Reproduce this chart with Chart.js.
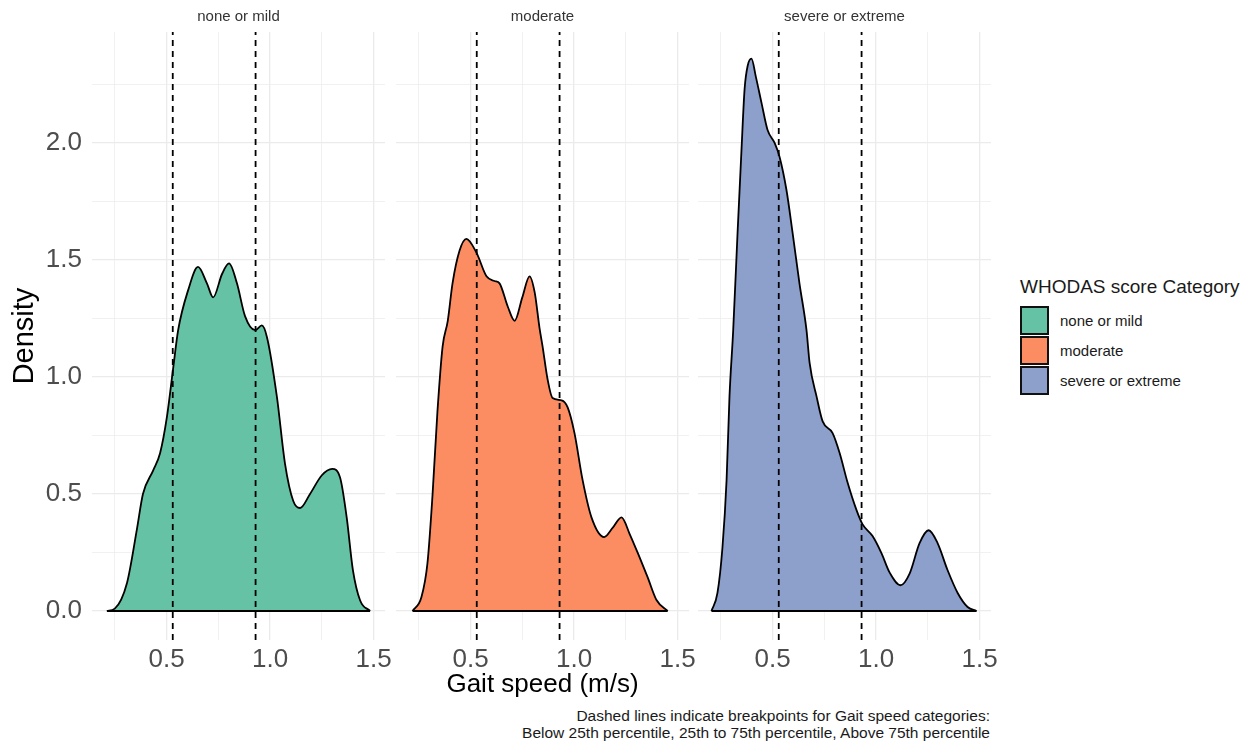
<!DOCTYPE html>
<html>
<head>
<meta charset="utf-8">
<script src="https://cdn.jsdelivr.net/npm/chart.js@4.4.1/dist/chart.umd.min.js"></script>
<style>
  body { margin: 0; background: #fff; width: 1259px; height: 742px; position: relative; overflow: hidden;
         font-family: 'Liberation Sans', Arial, sans-serif; }
  canvas { position: absolute; top: 0; }
  #legend { position: absolute; left: 1020px; top: 276px; color: #1a1a1a; }
  #legend .title { font-size: 19px; line-height: 22px; height: 29px; }
  #legend .row { height: 30px; display: flex; align-items: center; }
  #legend .key { width: 29px; height: 29px; box-sizing: border-box; border: 2px solid #111; }
  #legend .lab { font-size: 15px; margin-left: 11px; }
  #caption { position: absolute; right: 269px; top: 708px; font-size: 15.5px; line-height: 16.5px;
             text-align: right; color: #1a1a1a; }
</style>
</head>
<body>
<canvas id="c0"></canvas>
<canvas id="c1"></canvas>
<canvas id="c2"></canvas>
<div id="legend"></div>
<div id="caption">Dashed lines indicate breakpoints for Gait speed categories:<br>Below 25th percentile, 25th to 75th percentile, Above 75th percentile</div>
<script>
// WHODAS score categories and their Set2 colours
const categories = ['none or mild', 'moderate', 'severe or extreme']
const fillColors = ['#66C2A5', '#FC8D62', '#8DA0CB']

// gait speed breakpoints (25th and 75th percentile)
const breakpoints = [0.53, 0.93]

// density curves
const mildX = [0.212, 0.25, 0.309, 0.357, 0.386, 0.435, 0.469, 0.502, 0.531, 0.556, 0.604, 0.652, 0.695, 0.725, 0.768, 0.802, 0.84, 0.879, 0.928, 0.96, 0.985, 1.033, 1.072, 1.112, 1.145, 1.193, 1.25, 1.30, 1.338, 1.37, 1.40, 1.435, 1.483]
const mildY = [0, 0.01, 0.12, 0.35, 0.50, 0.60, 0.675, 0.83, 1.03, 1.20, 1.37, 1.47, 1.40, 1.34, 1.44, 1.485, 1.40, 1.26, 1.20, 1.22, 1.17, 0.915, 0.63, 0.47, 0.44, 0.50, 0.58, 0.607, 0.57, 0.40, 0.175, 0.045, 0]

const moderateX = [0.22, 0.263, 0.292, 0.316, 0.34, 0.365, 0.39, 0.413, 0.447, 0.48, 0.529, 0.577, 0.616, 0.64, 0.68, 0.713, 0.75, 0.785, 0.81, 0.833, 0.848, 0.872, 0.896, 0.94, 0.969, 1.002, 1.041, 1.084, 1.145, 1.186, 1.229, 1.268, 1.316, 1.355, 1.398, 1.452]
const moderateY = [0, 0.06, 0.205, 0.49, 0.85, 1.13, 1.24, 1.40, 1.54, 1.59, 1.53, 1.43, 1.41, 1.40, 1.30, 1.24, 1.34, 1.43, 1.36, 1.21, 1.13, 0.99, 0.91, 0.90, 0.87, 0.76, 0.56, 0.40, 0.316, 0.355, 0.40, 0.33, 0.23, 0.145, 0.047, 0]

const severeX = [0.205, 0.234, 0.258, 0.278, 0.292, 0.31, 0.331, 0.35, 0.365, 0.38, 0.398, 0.42, 0.447, 0.476, 0.51, 0.534, 0.567, 0.597, 0.63, 0.664, 0.679, 0.713, 0.742, 0.79, 0.824, 0.862, 0.906, 0.935, 0.983, 1.027, 1.065, 1.118, 1.162, 1.21, 1.254, 1.297, 1.345, 1.394, 1.442, 1.485]
const severeY = [0, 0.077, 0.27, 0.56, 0.915, 1.2, 1.615, 1.97, 2.23, 2.33, 2.36, 2.28, 2.17, 2.055, 2.0, 1.94, 1.80, 1.615, 1.40, 1.20, 1.06, 0.915, 0.81, 0.76, 0.675, 0.55, 0.43, 0.37, 0.32, 0.245, 0.165, 0.11, 0.16, 0.29, 0.345, 0.29, 0.175, 0.077, 0.017, 0]

const seriesX = [mildX, moderateX, severeX]
const seriesY = [mildY, moderateY, severeY]

const xRange = [0.14, 1.555]
const yRange = [-0.124, 2.474]
const xTickLabels = ['0.5', '1.0', '1.5']
const yTickLabels = ['0.0', '0.5', '1.0', '1.5', '2.0']

// panel plot areas (left, right) on the page
const panels = [[92, 385], [396, 689], [698, 991]]
const fontFamily = "'Liberation Sans', Arial, sans-serif"

function isMajor (v) {
  return Math.abs(v * 2 - Math.round(v * 2)) < 1e-6
}

function tickLabel (v, labels) {
  if (!isMajor(v)) return ''
  let txt = v.toFixed(1)
  return labels.indexOf(txt) >= 0 ? txt : ''
}

function makePanel (i) {
  let leftExtra = i === 0 ? 92 : 20
  let rightExtra = 20
  let [pl, pr] = panels[i]
  let canvas = document.getElementById('c' + i)
  canvas.width = pr - pl + leftExtra + rightExtra
  canvas.height = 700
  canvas.style.left = (pl - leftExtra) + 'px'

  let xs = seriesX[i]
  let ys = seriesY[i]
  let datasets = [
    {
      data: xs.map((x, j) => ({ x: x, y: ys[j] })),
      borderColor: '#000',
      borderWidth: 1.8,
      backgroundColor: fillColors[i],
      fill: 'origin',
      pointRadius: 0,
      cubicInterpolationMode: 'monotone',
      order: 3
    },
    {
      data: [{ x: xs[0], y: 0 }, { x: xs[xs.length - 1], y: 0 }],
      borderColor: '#000',
      borderWidth: 1.8,
      pointRadius: 0,
      fill: false,
      order: 2
    }
  ]
  breakpoints.forEach(bp => {
    datasets.push({
      data: [{ x: bp, y: yRange[0] }, { x: bp, y: yRange[1] }],
      borderColor: '#000',
      borderWidth: 1.8,
      borderDash: [6, 5],
      pointRadius: 0,
      fill: false,
      order: 1
    })
  })

  let gridWidth = ctx => (ctx.tick && isMajor(ctx.tick.value) ? 1.3 : 0.7)

  return new Chart(canvas, {
    type: 'line',
    data: { datasets: datasets },
    options: {
      responsive: false,
      animation: false,
      devicePixelRatio: 1,
      layout: { padding: { left: i === 0 ? 0 : leftExtra, right: rightExtra, top: 0, bottom: 0 } },
      plugins: {
        legend: { display: false },
        tooltip: { enabled: false },
        title: {
          display: true,
          text: categories[i],
          fullSize: false,
          color: '#333',
          font: { family: fontFamily, size: 15, weight: 'normal', lineHeight: 1.2 },
          padding: { top: 8, bottom: 6 }
        }
      },
      scales: {
        x: {
          type: 'linear',
          min: xRange[0],
          max: xRange[1],
          border: { display: false },
          grid: { color: '#EBEBEB', lineWidth: gridWidth, drawTicks: false },
          ticks: {
            stepSize: 0.25,
            includeBounds: false,
            autoSkip: false,
            maxRotation: 0,
            padding: 4,
            color: '#4D4D4D',
            font: { family: fontFamily, size: 26 },
            callback: v => tickLabel(v, xTickLabels)
          },
          title: {
            display: i === 1,
            text: 'Gait speed (m/s)',
            color: '#000',
            font: { family: fontFamily, size: 26, lineHeight: 1.2 },
            padding: { top: 0, bottom: 0 }
          },
          afterFit: scale => {
            scale.height = 60
            scale.paddingLeft = 0
            scale.paddingRight = 0
          }
        },
        y: {
          type: 'linear',
          min: yRange[0],
          max: yRange[1],
          border: { display: false },
          grid: { color: '#EBEBEB', lineWidth: gridWidth, drawTicks: false },
          ticks: {
            display: i === 0,
            stepSize: 0.25,
            includeBounds: false,
            autoSkip: false,
            padding: 10,
            color: '#4D4D4D',
            font: { family: fontFamily, size: 26 },
            callback: v => tickLabel(v, yTickLabels)
          },
          title: {
            display: i === 0,
            text: 'Density',
            color: '#000',
            font: { family: fontFamily, size: 29, lineHeight: 1.2 },
            padding: { top: 8, bottom: 0 }
          },
          afterFit: scale => {
            scale.width = i === 0 ? 92 : 0
            scale.paddingTop = 0
            scale.paddingBottom = 0
          }
        }
      }
    }
  })
}

panels.forEach((p, i) => makePanel(i))

// shared legend
let legend = document.getElementById('legend')
let html = '<div class="title">WHODAS score Category</div>'
categories.forEach((c, i) => {
  html += '<div class="row"><div class="key" style="background:' + fillColors[i] + '"></div><div class="lab">' + c + '</div></div>'
})
legend.innerHTML = html
</script>
</body>
</html>
